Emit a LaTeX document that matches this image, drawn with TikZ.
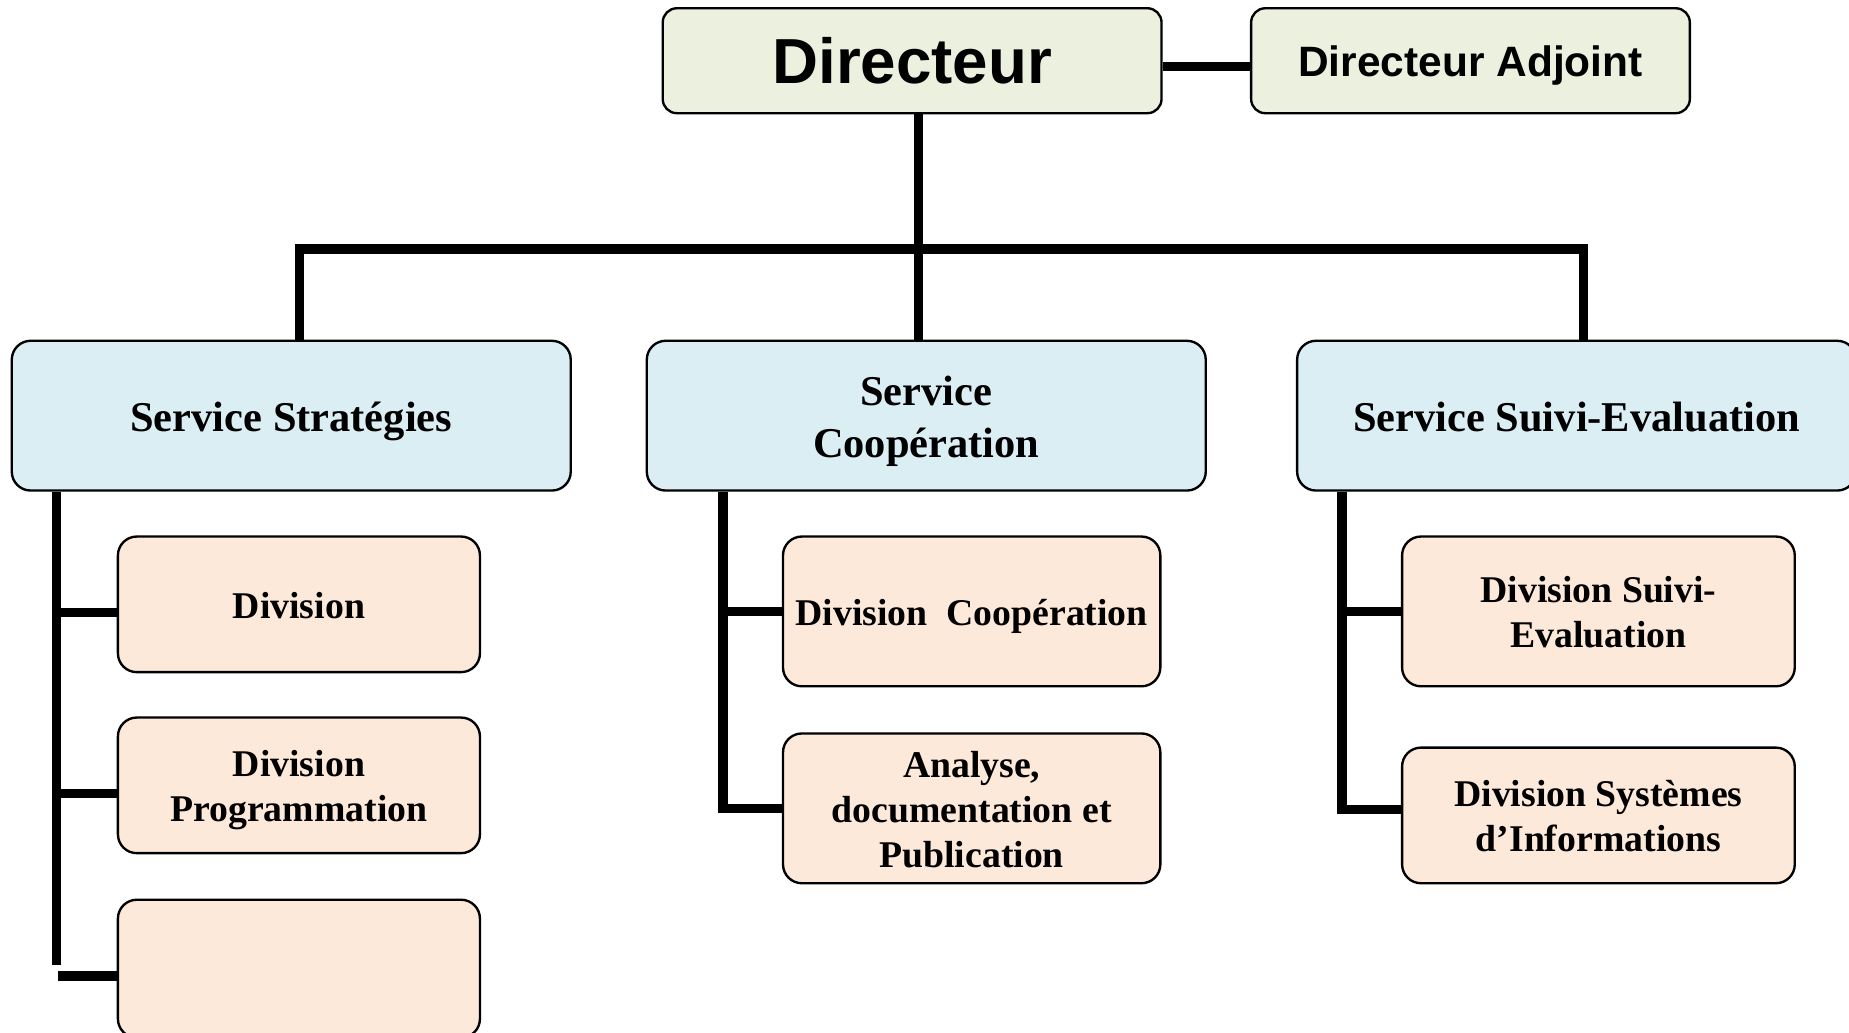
\documentclass[tikz,border=0pt]{standalone}
\usepackage{fontspec}
\setmainfont{Liberation Serif}
\newfontfamily\arialfont{Liberation Sans}
\usetikzlibrary{shapes}
\definecolor{dirgreen}{HTML}{EBF1DE}
\definecolor{servblue}{HTML}{DAEEF3}
\definecolor{divpeach}{HTML}{FDE9D9}
% fixed first-line height and last-line depth
\newcommand\strutup{\rule{0pt}{1.02em}}
\newcommand\strutdn{\rule[-0.28em]{0pt}{0.28em}}

\begin{document}
\begin{tikzpicture}
[ x=0.5pt, y=-0.5pt,
chef/.style={rectangle, draw=black, line width=1pt, fill=dirgreen, 
rounded corners=6pt, minimum height=44.5pt, inner sep=0pt}, 
service/.style ={rectangle, draw=black, line width=1pt, fill=servblue, 
 align=center, rounded corners=8pt, inner sep=0pt, 
 minimum width=237pt, minimum height=63.5pt, 
 font=\fontsize{18}{22}\selectfont\bfseries}, 
division/.style ={rectangle, draw=black, line width=1pt, fill=divpeach, 
 align=center, rounded corners=8pt, inner sep=0pt, 
 font=\fontsize{16}{19}\selectfont\bfseries}, 
link/.style={line width=4pt}, 
] 
\useasboundingbox (0,0) rectangle (1568,876);

% direction
\node (dir) [chef, minimum width=211.5pt, font=\arialfont\fontsize{27}{30}\selectfont\bfseries] at (773.5,51.5) {Directeur};
\node (adj) [chef, minimum width=186pt, font=\arialfont\fontsize{18}{22}\selectfont\bfseries] at (1247,51.5) {\strutup Directeur Adjoint\strutdn};

% services
\node (strat) [service] at (247,352.5) {\strutup Service Strat\'egies\strutdn};
\node (coop) [service] at (785.5,352.5) {\strutup Service\\Coop\'eration\strutdn};
\node (suivi) [service] at (1337,352.5) {\strutup Service Suivi-Evaluation\strutdn};

% divisions
\node (div1) [division, minimum width=153.5pt, minimum height=57.5pt] at (253.5,512.5) {\strutup Division\strutdn};
\node (div2) [division, minimum width=153.5pt, minimum height=57.5pt] at (253.5,666) {\strutup Division\\Programmation\strutdn};
\node (div3) [division, minimum width=153.5pt, minimum height=58.5pt] at (253.5,821.5) {};
\node (divcoop) [division, minimum width=160pt, minimum height=63.5pt] at (824,518.5) {\strutup Division\ \ Coop\'eration\strutdn};
\node (ana) [division, minimum width=160pt, minimum height=63.5pt] at (824,685.5) {\strutup Analyse,\\documentation et\\Publication\strutdn};
\node (divsuivi) [division, minimum width=166.5pt, minimum height=63.5pt] at (1355.5,518.5) {\strutup Division Suivi-\\Evaluation\strutdn};
\node (sys) [division, minimum width=166.5pt, minimum height=57.5pt] at (1355.5,691.5) {\strutup Division Syst\`emes\\d'Informations\strutdn};

\coordinate (hub) at (779,211);
\coordinate (sl) at (48,818);
\coordinate (cl) at (613,0);
\coordinate (sr) at (1138,0);

\draw[link] ([yshift=-2.5pt]dir.east) -- ([yshift=-2.5pt]adj.west);
\draw[link] (hub |- dir.south) -- (hub |- coop.north);
\draw[link] ([xshift=3.5pt]strat.north) |- (hub) -| ([xshift=3pt]suivi.north);

\draw[link] (sl |- strat.south) -- (sl);
\draw[link] ([yshift=-3.5pt]div1.west) -- ++(-52,0);
\draw[link] ([yshift=-3.5pt]div2.west) -- ++(-52,0);
\draw[link] ([yshift=-3pt]div3.west) -- ++(-50,0);

\draw[link] (coop.south -| cl) |- (ana.west);
\draw[link] (divcoop.west) -- (divcoop.west -| cl);

\draw[link] (suivi.south -| sr) |- ([yshift=2.5pt]sys.west);
\draw[link] (divsuivi.west) -- (divsuivi.west -| sr);
\end{tikzpicture}
\end{document}
